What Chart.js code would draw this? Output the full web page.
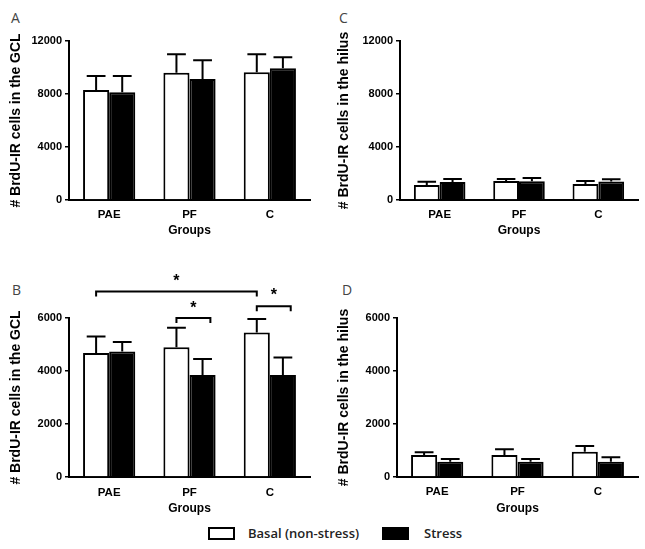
<!DOCTYPE html>
<html>
<head>
<meta charset="utf-8">
<script src="https://cdn.jsdelivr.net/npm/chart.js@4.4.0/dist/chart.umd.min.js"></script>
<style>
  body { margin: 0; background: #fff; width: 645px; height: 549px; position: relative; overflow: hidden; }
  canvas { position: absolute; }
  .letter { position: absolute; font-family: "Open Sans", sans-serif; font-size: 14px; line-height: 14px; color: #444; }
  .box { position: absolute; box-sizing: border-box; border: 2px solid #000; }
  .ltxt { position: absolute; font-family: "Open Sans", sans-serif; font-weight: 600; font-size: 13px; line-height: 14px; color: #222; }
</style>
</head>
<body>
<div class="letter" style="left:11px;top:11px">A</div>
<div class="letter" style="left:339px;top:11px">C</div>
<div class="letter" style="left:12px;top:283px">B</div>
<div class="letter" style="left:342px;top:283px">D</div>

<canvas id="chartA" width="320" height="245" style="left:0;top:0"></canvas>
<canvas id="chartC" width="325" height="245" style="left:320px;top:0"></canvas>
<canvas id="chartB" width="320" height="270" style="left:0;top:250px"></canvas>
<canvas id="chartD" width="325" height="270" style="left:320px;top:250px"></canvas>

<div class="box" style="left:208px;top:527px;width:27px;height:13px;background:#fff"></div>
<div class="ltxt" style="left:248px;top:526px">Basal (non-stress)</div>
<div class="box" style="left:382px;top:527px;width:27px;height:13px;background:#000"></div>
<div class="ltxt" style="left:424px;top:526px">Stress</div>

<script>
const groups = ['PAE', 'PF', 'C'];
const seriesNames = ['Basal (non-stress)', 'Stress'];

// A: GCL, no stress protocol
const gclBasal = [8300, 9600, 9650];
const gclBasalErr = [1060, 1400, 1350];
const gclStress = [8130, 9130, 9940];
const gclStressErr = [1230, 1410, 830];
const ticksTop = [0, 4000, 8000, 12000];

// C: hilus
const hilusBasal = [1130, 1430, 1210];
const hilusBasalErr = [250, 150, 220];
const hilusStress = [1360, 1410, 1400];
const hilusStressErr = [220, 250, 160];

// B: GCL, 2nd set
const gcl2Basal = [4680, 4900, 5450];
const gcl2BasalErr = [620, 730, 510];
const gcl2Stress = [4740, 3850, 3850];
const gcl2StressErr = [350, 600, 660];
const ticksBottom = [0, 2000, 4000, 6000];

// D: hilus, 2nd set
const hilus2Basal = [830, 830, 955];
const hilus2BasalErr = [100, 215, 215];
const hilus2Stress = [580, 580, 580];
const hilus2StressErr = [100, 100, 165];

const axisFont = { family: '"Liberation Sans", Arial, sans-serif', weight: 'bold' };

// upper error bars only, like the prism graphs
const errorBars = {
    id: 'errorBars',
    afterDatasetsDraw(chart) {
        const ctx = chart.ctx;
        const y = chart.scales.y;
        ctx.save();
        ctx.strokeStyle = '#000';
        ctx.lineWidth = 2;
        chart.data.datasets.forEach((ds, di) => {
            chart.getDatasetMeta(di).data.forEach((bar, i) => {
                const top = y.getPixelForValue(ds.data[i] + ds.err[i]);
                const cap = bar.width * 0.36;
                ctx.beginPath();
                ctx.moveTo(bar.x, bar.y);
                ctx.lineTo(bar.x, top);
                ctx.moveTo(bar.x - cap, top);
                ctx.lineTo(bar.x + cap, top);
                ctx.stroke();
            });
        });
        ctx.restore();
    }
};

// significance brackets with stars
const brackets = {
    id: 'brackets',
    afterDraw(chart, args, opts) {
        if (!opts.items) return;
        const ctx = chart.ctx;
        const y = chart.scales.y;
        ctx.save();
        ctx.strokeStyle = '#000';
        ctx.fillStyle = '#000';
        ctx.lineWidth = 2;
        opts.items.forEach(b => {
            const b1 = chart.getDatasetMeta(b.from[0]).data[b.from[1]];
            const b2 = chart.getDatasetMeta(b.to[0]).data[b.to[1]];
            const x1 = b1.x;
            const x2 = b2.x + b2.width * (b.to[0] === 1 ? 0.3 : 0);
            const yy = y.getPixelForValue(b.at);
            ctx.beginPath();
            ctx.moveTo(x1, yy + 5);
            ctx.lineTo(x1, yy);
            ctx.lineTo(x2, yy);
            ctx.lineTo(x2, yy + 5);
            ctx.stroke();
            ctx.font = 'bold 16px "Liberation Sans", Arial, sans-serif';
            ctx.textAlign = 'center';
            ctx.textBaseline = 'alphabetic';
            ctx.fillText('*', (x1 + x2) / 2, y.getPixelForValue(b.star) + 10);
        });
        ctx.restore();
    }
};

function makeChart(id, basal, basalErr, stress, stressErr, ticks, yTitle, lay) {
    return new Chart(document.getElementById(id), {
        type: 'bar',
        data: {
            labels: groups,
            datasets: [{
                label: seriesNames[0],
                data: basal,
                err: basalErr,
                backgroundColor: '#fff',
                borderColor: '#000',
                borderWidth: 2
            }, {
                label: seriesNames[1],
                data: stress,
                err: stressErr,
                backgroundColor: '#000',
                borderColor: '#000',
                borderWidth: 2
            }]
        },
        options: {
            responsive: false,
            animation: false,
            categoryPercentage: 0.65,
            barPercentage: 1,
            layout: { padding: { top: lay.top, right: lay.right, left: 0, bottom: 0 } },
            plugins: {
                legend: { display: false },
                tooltip: { enabled: false },
                brackets: { items: lay.brackets }
            },
            scales: {
                x: {
                    grid: { display: false, drawTicks: false },
                    border: { display: true, color: '#000', width: 2 },
                    ticks: { color: '#000', padding: lay.tickPad, font: { ...axisFont, size: 11.5 } },
                    title: { display: true, text: 'Groups', color: '#000', padding: { top: 0, bottom: lay.xTitlePad }, font: { ...axisFont, size: 12 } },
                    afterFit: s => { s.height = lay.xHeight; }
                },
                y: {
                    min: ticks[0],
                    max: ticks[ticks.length - 1],
                    afterBuildTicks: s => { s.ticks = ticks.map(v => ({ value: v })); },
                    grid: { drawOnChartArea: false, color: '#000', lineWidth: 1.5, tickLength: 4 },
                    border: { display: true, color: '#000', width: 2 },
                    ticks: { color: '#000', padding: 3, font: { ...axisFont, size: 11 }, callback: v => String(v) },
                    title: { display: true, text: yTitle, color: '#000', padding: { top: lay.yTitlePad, bottom: 0 }, font: { ...axisFont, size: 14 } },
                    afterFit: s => { s.width = lay.yWidth; }
                }
            }
        },
        plugins: [errorBars, brackets]
    });
}

document.addEventListener('DOMContentLoaded', () => {
    makeChart('chartA', gclBasal, gclBasalErr, gclStress, gclStressErr, ticksTop,
        '# BrdU-IR cells in the GCL',
        { top: 41, right: 10, yWidth: 69, xHeight: 45, yTitlePad: 7.5, xTitlePad: 7, tickPad: 8 });
    makeChart('chartC', hilusBasal, hilusBasalErr, hilusStress, hilusStressErr, ticksTop,
        '# BrdU-IR cells in the hilus',
        { top: 41, right: 7, yWidth: 80, xHeight: 45, yTitlePad: 15.5, xTitlePad: 7, tickPad: 8 });
    makeChart('chartB', gcl2Basal, gcl2BasalErr, gcl2Stress, gcl2StressErr, ticksBottom,
        '# BrdU-IR cells in the GCL',
        { top: 68, right: 10, yWidth: 69, xHeight: 43, yTitlePad: 7.5, xTitlePad: 4, tickPad: 9,
          brackets: [
              { from: [0, 0], to: [0, 2], at: 7000, star: 7600 },
              { from: [0, 1], to: [1, 1], at: 6000, star: 6570 },
              { from: [0, 2], to: [1, 2], at: 6440, star: 7040 }
          ] });
    makeChart('chartD', hilus2Basal, hilus2BasalErr, hilus2Stress, hilus2StressErr, ticksBottom,
        '# BrdU-IR cells in the hilus',
        { top: 68, right: 7, yWidth: 77, xHeight: 43, yTitlePad: 15.5, xTitlePad: 4, tickPad: 8 });
});
</script>
</body>
</html>
